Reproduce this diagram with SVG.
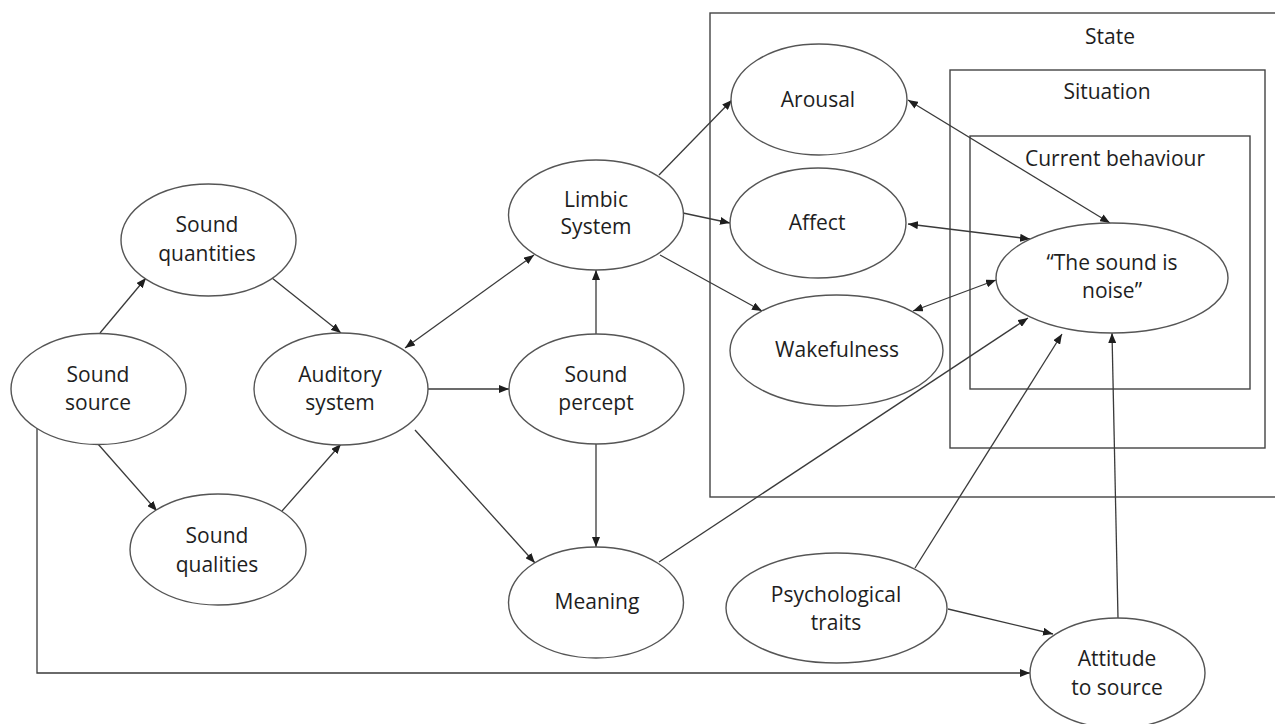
<svg xmlns="http://www.w3.org/2000/svg" width="1275" height="724" viewBox="0 0 1275 724">
<style>
.bg{fill:#ffffff}
.box{fill:none;stroke:#444;stroke-width:1.4}
.node ellipse{fill:#fff;stroke:#555;stroke-width:1.4}
text{font-family:"Open Sans","Noto Sans","Liberation Sans",sans-serif;font-size:21px;fill:#1e1e1e;text-anchor:middle}
.edge{fill:none;stroke:#3a3a3a;stroke-width:1.3}
</style>
<defs>
<marker id="ah" markerWidth="10" markerHeight="8" refX="10" refY="4" orient="auto-start-reverse" markerUnits="userSpaceOnUse">
<path d="M0,0 L10,4 L0,8 Z" fill="#1e1e1e"/>
</marker>
</defs>
<rect class="bg" x="0" y="0" width="1275" height="724"/>
<g id="boxes">
<g id="state-box"><rect class="box" x="710" y="13" width="580" height="484"/><text x="1110" y="44">State</text></g>
<g id="situation-box"><rect class="box" x="950" y="70" width="315" height="378"/><text x="1107" y="99">Situation</text></g>
<g id="behaviour-box"><rect class="box" x="970" y="136" width="280" height="253"/><text x="1115" y="166">Current behaviour</text></g>
</g>
<g id="connectors">
<line class="edge" x1="100" y1="333" x2="146" y2="278" marker-end="url(#ah)"/>
<line class="edge" x1="272" y1="278" x2="341" y2="333" marker-end="url(#ah)"/>
<line class="edge" x1="98" y1="444" x2="157" y2="511" marker-end="url(#ah)"/>
<line class="edge" x1="282" y1="511" x2="341" y2="444" marker-end="url(#ah)"/>
<line class="edge" x1="405" y1="348" x2="534" y2="255" marker-start="url(#ah)" marker-end="url(#ah)"/>
<line class="edge" x1="428" y1="389" x2="509" y2="389" marker-end="url(#ah)"/>
<line class="edge" x1="415" y1="430" x2="535" y2="563" marker-end="url(#ah)"/>
<line class="edge" x1="596" y1="334" x2="596" y2="270" marker-end="url(#ah)"/>
<line class="edge" x1="596" y1="444" x2="596" y2="547" marker-end="url(#ah)"/>
<line class="edge" x1="659" y1="175" x2="732" y2="100" marker-end="url(#ah)"/>
<line class="edge" x1="683" y1="213" x2="730" y2="223" marker-end="url(#ah)"/>
<line class="edge" x1="660" y1="255" x2="762" y2="311" marker-end="url(#ah)"/>
<line class="edge" x1="908" y1="100" x2="1110" y2="223" marker-start="url(#ah)" marker-end="url(#ah)"/>
<line class="edge" x1="908" y1="224" x2="1030" y2="239" marker-start="url(#ah)" marker-end="url(#ah)"/>
<line class="edge" x1="913" y1="311" x2="996" y2="280" marker-start="url(#ah)" marker-end="url(#ah)"/>
<line class="edge" x1="659" y1="562" x2="1028" y2="318" marker-end="url(#ah)"/>
<line class="edge" x1="915" y1="568" x2="1062" y2="334" marker-end="url(#ah)"/>
<line class="edge" x1="948" y1="609" x2="1053" y2="634" marker-end="url(#ah)"/>
<line class="edge" x1="1118" y1="618" x2="1112" y2="333" marker-end="url(#ah)"/>
<polyline class="edge" points="37,428 37,673 1030,673" marker-end="url(#ah)"/>
</g>
<g id="sound-source" class="node"><ellipse cx="98.5" cy="389" rx="87.5" ry="55.5"/><text x="98" y="382">Sound</text><text x="98" y="410">source</text></g>
<g id="sound-quantities" class="node"><ellipse cx="208.5" cy="240" rx="87.5" ry="56"/><text x="207" y="232">Sound</text><text x="207" y="261">quantities</text></g>
<g id="sound-qualities" class="node"><ellipse cx="218" cy="549.5" rx="88" ry="55.5"/><text x="217" y="543">Sound</text><text x="217" y="572">qualities</text></g>
<g id="auditory-system" class="node"><ellipse cx="341" cy="389" rx="87" ry="56"/><text x="340" y="382">Auditory</text><text x="340" y="410">system</text></g>
<g id="limbic-system" class="node"><ellipse cx="596" cy="215" rx="87.5" ry="55"/><text x="596" y="207">Limbic</text><text x="596" y="234">System</text></g>
<g id="sound-percept" class="node"><ellipse cx="596.5" cy="389" rx="87.5" ry="55"/><text x="596" y="382">Sound</text><text x="596" y="410">percept</text></g>
<g id="meaning" class="node"><ellipse cx="596" cy="602.5" rx="87.5" ry="55.5"/><text x="597" y="609">Meaning</text></g>
<g id="arousal" class="node"><ellipse cx="819" cy="99.5" rx="88" ry="55.5"/><text x="818" y="107">Arousal</text></g>
<g id="affect" class="node"><ellipse cx="818" cy="223" rx="88" ry="55"/><text x="817" y="230">Affect</text></g>
<g id="wakefulness" class="node"><ellipse cx="836.5" cy="350.5" rx="106.5" ry="55.5"/><text x="837" y="357">Wakefulness</text></g>
<g id="sound-is-noise" class="node"><ellipse cx="1112" cy="278" rx="116" ry="55"/><text x="1112" y="270">“The sound is</text><text x="1112" y="298">noise”</text></g>
<g id="psychological-traits" class="node"><ellipse cx="836.5" cy="608" rx="110.5" ry="55"/><text x="836" y="602">Psychological</text><text x="836" y="630">traits</text></g>
<g id="attitude-to-source" class="node"><ellipse cx="1117.5" cy="673" rx="87.5" ry="55"/><text x="1117" y="666">Attitude</text><text x="1117" y="695">to source</text></g>
</svg>
